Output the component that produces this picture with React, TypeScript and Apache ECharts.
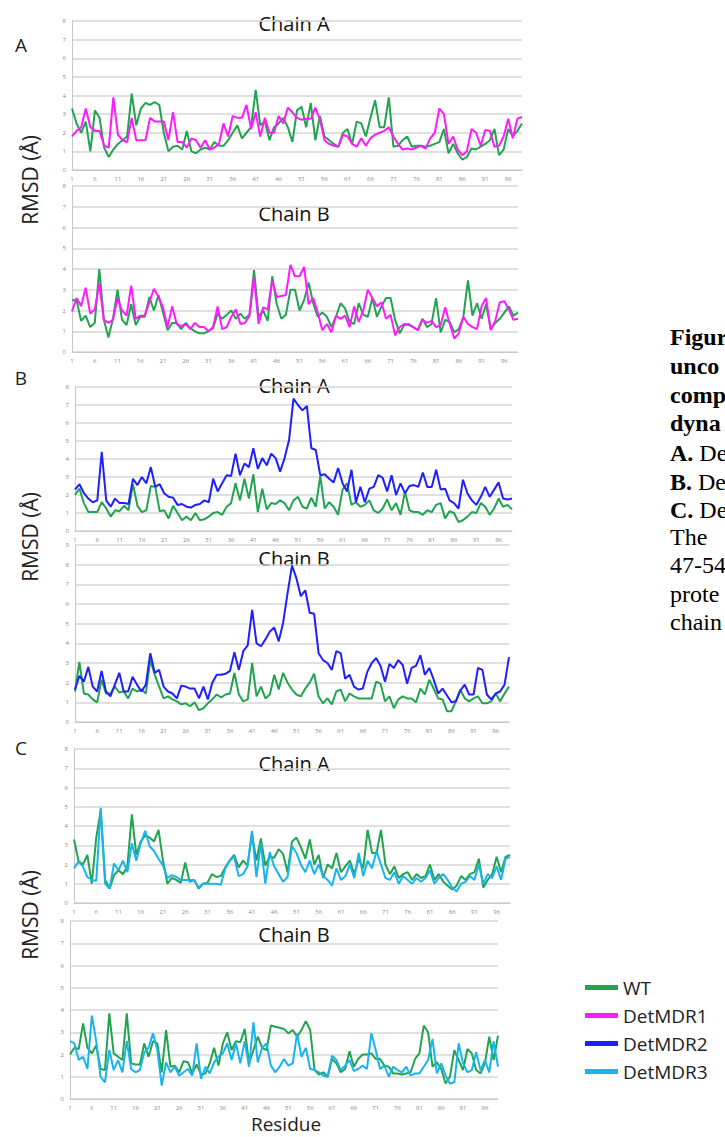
import React, { useEffect, useRef } from "react";
import * as echarts from "echarts";

// Residue numbers 1..99 (category axis)
const residues: string[] = Array.from({ length: 99 }, (_, i) => String(i + 1));

// Panel A – Chain A
const wtA_chainA = [
  3.3, 2.5, 2.0, 2.6, 1.0, 3.2, 2.8, 1.2, 0.7, 1.1,
  1.4, 1.6, 1.8, 4.1, 2.4, 3.3, 3.6, 3.5, 3.65, 3.5,
  2.0, 1.0, 1.25, 1.3, 1.1, 2.1, 1.0, 0.9, 1.1, 1.2,
  1.1, 1.5, 1.3, 1.3, 1.6, 2.0, 2.4, 1.7, 2.0, 2.3,
  4.3, 2.4, 2.6, 1.6, 2.3, 2.5, 2.8, 2.3, 1.5, 3.2,
  3.4, 2.3, 3.6, 1.6, 2.9, 1.8, 1.6, 1.4, 1.25, 2.0,
  2.2, 1.4, 2.6, 2.5, 1.8, 2.8, 3.75, 2.3, 2.3, 3.9,
  1.25, 1.3, 1.6, 1.8, 1.25, 1.3, 1.3, 1.25, 1.3, 1.4,
  1.5, 2.2, 0.9, 1.4, 0.9, 0.55, 0.7, 1.15, 1.1, 1.25,
  1.4, 1.6, 2.2, 0.8, 1.1, 2.2, 1.8, 2.1, 2.5,
];
const mdr1A_chainA = [
  1.8, 2.1, 2.3, 3.3, 2.3, 2.1, 2.1, 1.3, 1.2, 3.9,
  1.9, 1.6, 1.5, 2.8, 1.6, 1.6, 1.6, 2.8, 2.6, 2.6,
  2.6, 1.6, 3.1, 1.5, 1.5, 1.2, 1.7, 1.6, 1.2, 1.6,
  1.1, 1.2, 1.4, 2.5, 1.8, 2.9, 2.8, 2.8, 3.5, 2.2,
  3.1, 1.8, 2.8, 2.0, 2.0, 2.9, 2.5, 3.35, 3.1, 2.8,
  2.7, 2.75, 2.75, 3.35, 2.7, 1.6, 1.4, 1.3, 1.25, 1.9,
  1.8, 1.4, 1.25, 1.7, 1.3, 1.7, 1.9, 2.0, 2.1, 2.3,
  1.8, 1.4, 1.1, 1.15, 1.1, 1.2, 1.3, 1.15, 1.7, 2.0,
  3.3, 3.0, 1.4, 1.8, 1.1, 0.8, 1.0, 2.2, 2.0, 1.3,
  2.15, 2.1, 1.25, 1.3, 1.8, 2.75, 1.7, 2.75, 2.85,
];

// Panel A – Chain B
const wtA_chainB = [
  2.5, 2.5, 1.5, 1.75, 1.2, 1.4, 4.0, 1.55, 0.7, 1.6,
  3.0, 1.55, 1.3, 2.3, 1.3, 1.7, 1.7, 2.65, 2.0, 2.75,
  1.9, 1.05, 1.4, 1.4, 1.1, 1.4, 1.15, 1.0, 0.9, 0.9,
  1.0, 1.15, 1.85, 1.6, 1.8, 2.0, 1.6, 1.85, 1.6, 1.8,
  3.95, 1.7, 2.0, 1.5, 3.65, 2.3, 1.6, 1.8, 3.0, 3.0,
  2.0, 2.5, 3.35, 2.35, 1.7, 1.9, 1.7, 1.2, 1.7, 2.35,
  2.1, 1.45, 1.35, 2.35, 1.8, 1.7, 2.6, 1.7, 2.2, 2.6,
  2.6, 1.55, 0.9, 1.3, 1.35, 1.2, 1.05, 1.6, 1.2, 1.35,
  2.6, 0.95, 1.55, 1.45, 0.95, 1.1, 1.7, 3.45, 1.75, 2.35,
  1.6, 2.3, 1.1, 1.4, 1.6, 1.9, 2.2, 1.75, 1.9,
];
const mdr1A_chainB = [
  1.95, 2.6, 2.2, 3.1, 1.85, 2.05, 3.3, 1.55, 1.4, 1.55,
  2.6, 2.0, 1.75, 3.2, 1.6, 1.75, 1.75, 2.4, 3.05, 2.65,
  2.15, 1.2, 2.2, 1.35, 1.25, 1.35, 1.1, 1.4, 1.2, 1.2,
  1.0, 1.2, 2.2, 1.1, 1.2, 1.7, 2.05, 1.35, 1.4, 1.75,
  3.6, 1.35, 2.15, 2.05, 3.45, 2.65, 2.7, 2.75, 4.2, 3.65,
  3.65, 4.1, 2.3, 2.6, 1.9, 1.05, 1.35, 0.95, 1.75, 1.6,
  1.75, 1.2, 2.2, 1.45, 2.0, 3.0, 2.6, 2.2, 2.4, 1.6,
  1.8, 0.8, 1.2, 1.35, 1.3, 1.2, 1.05, 1.55, 1.4, 1.5,
  1.2, 1.3, 2.15, 1.35, 0.65, 0.9, 1.7, 1.35, 1.2, 1.1,
  2.2, 2.6, 1.05, 1.5, 2.4, 2.45, 2.05, 1.55, 1.6,
];

// Panel B – Chain A
const wtB_chainA = [
  2.0, 2.35, 1.55, 1.05, 1.05, 1.05, 1.6, 1.25, 0.8, 1.15,
  1.1, 1.4, 1.15, 2.6, 1.4, 1.05, 1.15, 2.5, 2.45, 1.1,
  1.15, 0.7, 1.4, 1.0, 0.6, 0.8, 0.6, 1.0, 0.6, 0.65,
  0.8, 1.0, 1.05, 0.9, 1.35, 1.55, 2.65, 1.7, 2.9, 1.8,
  3.15, 1.05, 2.35, 1.2, 1.55, 1.5, 1.7, 1.55, 1.15, 1.7,
  1.9, 1.35, 1.25, 1.85, 1.35, 3.05, 1.25, 1.6, 1.35, 0.9,
  2.3, 2.65, 1.45, 1.6, 1.35, 1.45, 1.7, 1.15, 1.0, 1.25,
  1.75, 1.15, 1.55, 0.9, 2.2, 1.15, 1.05, 1.05, 0.9, 1.15,
  1.05, 1.45, 1.55, 0.7, 1.1, 1.0, 0.5, 0.6, 0.8, 1.05,
  1.0, 1.55, 1.35, 0.9, 1.25, 1.8, 1.35, 1.45, 1.2,
];
const mdr2B_chainA = [
  2.3, 2.6, 2.1, 1.8, 1.6, 1.7, 4.4, 1.7, 1.35, 1.8,
  1.55, 1.55, 1.5, 2.9, 2.55, 3.0, 2.65, 3.55, 2.45, 2.6,
  2.1, 1.9, 1.85, 1.45, 1.5, 1.35, 1.3, 1.45, 1.5, 1.7,
  1.6, 2.9, 2.2, 2.65, 3.1, 3.05, 4.3, 3.1, 3.75, 3.55,
  4.6, 3.45, 4.05, 3.65, 4.3, 4.05, 3.3, 4.05, 5.05, 7.35,
  7.0, 6.7, 6.95, 4.6, 4.5, 3.1, 3.15, 2.9, 2.7, 3.5,
  2.65, 2.2, 3.4, 1.6, 2.45, 1.6, 2.35, 2.45, 3.1, 2.95,
  2.2, 3.1, 2.0, 2.65, 2.1, 2.5, 2.55, 2.45, 3.25, 2.45,
  2.45, 3.4, 2.3, 2.35, 1.7, 1.55, 1.25, 2.85, 2.1, 1.7,
  1.45, 1.9, 2.45, 1.9, 2.3, 2.7, 1.8, 1.75, 1.8,
];

// Panel B – Chain B
const wtB_chainB = [
  1.55, 3.05, 1.45, 1.4, 1.15, 1.0, 2.15, 1.45, 1.45, 1.8,
  1.5, 1.55, 1.2, 1.7, 1.55, 1.65, 1.45, 3.15, 2.4, 1.8,
  1.2, 1.3, 1.15, 1.05, 0.9, 0.95, 0.8, 1.0, 0.6, 0.7,
  0.95, 1.15, 1.4, 1.25, 1.4, 1.45, 2.5, 1.4, 1.05, 1.15,
  3.0, 1.3, 1.8, 1.2, 1.4, 2.4, 1.65, 2.5, 2.0, 1.65,
  1.4, 1.3, 1.7, 2.0, 2.45, 1.3, 0.95, 1.2, 0.9, 1.55,
  1.65, 1.05, 1.45, 1.3, 1.2, 1.2, 1.2, 1.2, 2.05, 1.95,
  1.05, 1.3, 0.7, 1.15, 1.3, 1.2, 1.2, 1.0, 1.7, 1.4,
  2.15, 1.7, 1.2, 1.15, 0.55, 0.55, 1.05, 1.65, 1.2, 1.05,
  1.2, 1.3, 0.95, 0.95, 1.05, 1.45, 1.05, 1.45, 1.8,
];
const mdr2B_chainB = [
  1.65, 2.35, 2.05, 2.8, 1.8, 1.55, 2.6, 1.55, 1.3, 1.9,
  2.5, 1.55, 1.55, 2.3, 1.9, 1.55, 1.9, 3.5, 2.5, 2.65,
  1.8, 1.55, 1.45, 1.2, 1.85, 1.8, 1.7, 1.7, 1.2, 1.8,
  1.15, 2.0, 2.4, 2.4, 2.45, 2.6, 3.55, 2.65, 3.6, 3.9,
  5.7, 4.0, 3.85, 4.2, 4.6, 4.8, 4.1, 5.05, 6.55, 7.95,
  7.3, 6.4, 6.7, 5.55, 5.5, 3.5, 3.15, 3.0, 2.65, 3.6,
  3.5, 2.2, 2.4, 1.8, 1.65, 1.7, 2.55, 3.0, 3.25, 2.85,
  2.05, 2.95, 2.75, 3.15, 2.9, 1.95, 2.75, 2.85, 3.4, 2.4,
  2.75, 2.15, 1.45, 1.7, 1.35, 1.0, 1.05, 1.6, 1.9, 1.4,
  1.4, 2.75, 2.65, 1.4, 1.15, 1.45, 1.55, 1.9, 3.3,
];

// Panel C – Chain A
const wtC_chainA = [
  3.3, 2.2, 2.0, 2.5, 1.0, 3.4, 4.8, 1.2, 0.75, 1.45,
  1.7, 1.5, 1.9, 4.6, 2.5, 3.2, 3.5, 3.4, 3.2, 3.8,
  2.2, 1.0, 1.3, 1.2, 1.05, 2.1, 1.1, 1.2, 0.75, 1.0,
  1.05, 1.5, 1.35, 1.4, 1.85, 2.2, 2.5, 1.85, 2.2, 1.95,
  3.6, 2.2, 3.35, 1.95, 2.4, 2.35, 2.8, 2.55, 1.6, 3.2,
  3.4, 2.9, 2.3, 3.3, 2.0, 2.5, 1.3, 2.0, 1.8, 2.6,
  1.6, 1.9, 2.2, 1.5, 2.3, 1.8, 3.8, 2.6, 2.6, 3.8,
  2.0, 1.5, 1.9, 1.3, 1.5, 1.6, 1.2, 1.5, 1.3, 1.4,
  2.0, 1.2, 1.5, 1.1, 0.9, 0.7, 0.9, 1.4, 1.2, 1.5,
  1.6, 2.3, 0.8, 1.2, 1.5, 2.4, 1.6, 2.4, 2.5,
];
const mdr3C_chainA = [
  1.8, 2.15, 1.9, 1.35, 1.2, 1.15, 4.95, 1.0, 0.75, 2.05,
  1.7, 2.2, 1.6, 3.1, 2.2, 3.1, 3.75, 2.95, 2.7, 2.3,
  1.95, 1.3, 1.45, 1.35, 1.2, 1.2, 1.2, 1.2, 0.8, 1.0,
  1.0, 1.0, 1.0, 0.95, 1.8, 2.2, 2.4, 1.4, 1.5, 1.9,
  3.75, 1.35, 3.1, 1.0, 2.65, 1.9, 1.5, 1.1, 1.35, 2.95,
  2.6, 2.0, 1.6, 2.2, 1.5, 2.0, 1.4, 1.2, 0.9, 1.8,
  1.2, 1.4, 2.0, 1.3, 2.6, 1.4, 2.2, 1.8, 2.7, 2.0,
  1.3, 1.2, 1.6, 1.0, 1.4, 1.2, 1.0, 1.3, 1.1, 1.3,
  1.7, 1.0, 1.3, 1.5, 1.2, 0.8, 0.6, 1.0, 1.1, 1.4,
  1.2, 2.0, 1.0, 1.5, 1.3, 1.9, 1.2, 2.3, 2.4,
];

// Panel C – Chain B
const wtC_chainB = [
  2.0, 2.3, 2.25, 3.4, 2.3, 2.05, 2.4, 1.35, 1.3, 3.85,
  2.05, 1.9, 1.75, 3.85, 1.6, 1.55, 1.55, 2.5, 1.9, 2.6,
  2.5, 1.2, 3.1, 1.45, 1.5, 1.2, 1.7, 1.65, 1.15, 1.55,
  1.1, 1.15, 1.6, 2.3, 1.5, 2.5, 3.0, 2.2, 2.6, 2.55,
  3.15, 1.6, 2.2, 2.8, 2.3, 2.2, 3.3, 3.25, 3.2, 3.15,
  2.95, 3.1, 2.8, 3.1, 3.5, 3.1, 1.3, 1.1, 1.2, 1.0,
  1.8, 1.6, 1.2, 1.35, 2.15, 1.45, 1.8, 2.0, 2.0, 2.05,
  1.8, 1.8, 1.5, 1.45, 1.15, 1.15, 1.1, 1.15, 1.2, 1.8,
  2.05, 3.3, 3.0, 1.45, 1.65, 1.35, 0.7, 1.0, 2.2, 1.75,
  1.3, 2.25, 2.05, 1.3, 1.15, 1.6, 2.8, 1.75, 2.85,
];
const mdr3C_chainB = [
  2.6, 2.5, 1.75, 1.9, 1.35, 3.75, 2.6, 1.0, 0.75, 2.2,
  1.3, 1.75, 1.2, 2.6, 1.35, 1.2, 1.3, 2.1, 2.3, 2.95,
  2.2, 0.6, 1.65, 1.2, 1.45, 1.05, 1.2, 1.35, 1.05, 2.5,
  0.9, 1.45, 1.15, 1.65, 1.9, 2.05, 2.5, 1.75, 2.5, 1.6,
  2.6, 1.45, 3.45, 1.65, 2.3, 2.5, 1.5, 1.2, 1.45, 1.8,
  1.5, 1.6, 2.95, 1.9, 2.3, 1.35, 1.3, 1.2, 1.05, 1.0,
  1.95, 1.75, 1.3, 1.5, 1.75, 1.25, 1.35, 1.5, 1.35, 2.95,
  2.2, 1.35, 1.5, 1.0, 1.45, 1.3, 1.2, 1.45, 1.05, 1.15,
  1.15, 1.45, 1.75, 2.7, 1.15, 1.6, 1.05, 0.7, 0.75, 2.5,
  1.6, 1.2, 1.3, 2.1, 1.3, 1.75, 1.2, 2.6, 1.45,
];

const legendNames = ["WT", "DetMDR1", "DetMDR2", "DetMDR3"];
const colors: Record<string, string> = {
  WT: "#22a34f",
  DetMDR1: "#ff1aff",
  DetMDR2: "#1f1fff",
  DetMDR3: "#19b4ee",
};

const chainTitles = ["Chain A", "Chain B", "Chain A", "Chain B", "Chain A", "Chain B"];
const panelLetters = ["A", "B", "C"];
const captionLines = [
  { b: "Figur", r: "" },
  { b: "unco", r: "" },
  { b: "comp", r: "" },
  { b: "dyna", r: "" },
  { b: "A.", r: " De" },
  { b: "B.", r: " De" },
  { b: "C.", r: " De" },
  { b: "", r: "The" },
  { b: "", r: "47-54" },
  { b: "", r: "prote" },
  { b: "", r: "chain" },
];

// Layout (pixels)
const panels = [
  { grid: { left: 72, top: 21, width: 450, height: 149 }, ymax: 8, series: [["WT", wtA_chainA], ["DetMDR1", mdr1A_chainA]] },
  { grid: { left: 72, top: 186, width: 446, height: 166 }, ymax: 8, series: [["WT", wtA_chainB], ["DetMDR1", mdr1A_chainB]] },
  { grid: { left: 75, top: 387, width: 437, height: 144 }, ymax: 8, series: [["WT", wtB_chainA], ["DetMDR2", mdr2B_chainA]] },
  { grid: { left: 75, top: 545, width: 434, height: 177 }, ymax: 9, series: [["WT", wtB_chainB], ["DetMDR2", mdr2B_chainB]] },
  { grid: { left: 74, top: 749, width: 436, height: 154 }, ymax: 8, series: [["WT", wtC_chainA], ["DetMDR3", mdr3C_chainA]] },
  { grid: { left: 70, top: 921, width: 428, height: 178 }, ymax: 8, series: [["WT", wtC_chainB], ["DetMDR3", mdr3C_chainB]] },
];
const titleY = [23, 213, 385, 558, 763, 934];
const letterY = [45, 378, 748];
const rmsdY = [180, 537, 915];
const captionY = [337, 366, 395, 423, 453, 482, 510, 537, 565, 594, 622];

export default function App() {
  const ref = useRef<HTMLDivElement>(null);
  useEffect(() => {
    if (!ref.current) return;
    const chart = echarts.init(ref.current, undefined, { renderer: "svg" });
    const sans = "Open Sans";
    const grids: any[] = [];
    const xAxes: any[] = [];
    const yAxes: any[] = [];
    const series: any[] = [];
    panels.forEach((p, i) => {
      grids.push({ ...p.grid });
      xAxes.push({
        type: "category",
        gridIndex: i,
        data: residues,
        boundaryGap: false,
        axisLine: { lineStyle: { color: "#c8c8c8", width: 1 } },
        axisTick: { show: false },
        axisLabel: { interval: 4, fontSize: 6, color: "#888", margin: 6, fontFamily: sans },
        splitLine: { show: false },
      });
      yAxes.push({
        type: "value",
        gridIndex: i,
        min: 0,
        max: p.ymax,
        interval: 1,
        axisLine: { show: true, lineStyle: { color: "#c8c8c8", width: 1 } },
        axisTick: { show: false },
        axisLabel: { fontSize: 6, color: "#888", margin: 6, fontFamily: sans },
        splitLine: { show: true, lineStyle: { color: "#d6d6d6", width: 1.5 } },
      });
      (p.series as any[]).forEach(([name, data]) => {
        series.push({
          type: "line",
          name,
          xAxisIndex: i,
          yAxisIndex: i,
          data,
          symbol: "none",
          lineStyle: { width: 2, color: colors[name] },
          itemStyle: { color: colors[name] },
        });
      });
    });

    const graphics: any[] = [];
    chainTitles.forEach((t, i) => {
      graphics.push({
        type: "text",
        x: 294,
        y: titleY[i],
        style: { text: t, fontSize: 20, fontFamily: sans, fill: "#111", align: "center", verticalAlign: "middle" },
      });
    });
    panelLetters.forEach((t, i) => {
      graphics.push({
        type: "text",
        x: 21,
        y: letterY[i],
        style: { text: t, fontSize: 19, fontFamily: sans, fill: "#222", align: "center", verticalAlign: "middle" },
      });
    });
    rmsdY.forEach((y) => {
      graphics.push({
        type: "text",
        x: 30,
        y,
        rotation: Math.PI / 2,
        style: { text: "RMSD (Å)", fontSize: 21, fontFamily: sans, fill: "#222", align: "center", verticalAlign: "middle" },
      });
    });
    graphics.push({
      type: "text",
      x: 286,
      y: 1124,
      style: { text: "Residue", fontSize: 19, fontFamily: sans, fill: "#222", align: "center", verticalAlign: "middle" },
    });
    captionLines.forEach((l, i) => {
      const txt = (l.b ? "{b|" + l.b + "}" : "") + (l.r ? "{r|" + l.r + "}" : "");
      graphics.push({
        type: "text",
        x: 670,
        y: captionY[i],
        style: {
          text: txt,
          verticalAlign: "middle",
          rich: {
            b: { fontSize: 24, fontWeight: "bold", fontFamily: "Liberation Serif", fill: "#000" },
            r: { fontSize: 24, fontFamily: "Liberation Serif", fill: "#000" },
          },
        },
      });
    });

    chart.setOption({
      animation: false,
      backgroundColor: "#ffffff",
      grid: grids,
      xAxis: xAxes,
      yAxis: yAxes,
      series,
      legend: {
        data: legendNames,
        orient: "vertical",
        left: 580,
        top: 973,
        icon: "rect",
        itemWidth: 33,
        itemHeight: 5,
        itemGap: 9,
        textStyle: { fontSize: 19, fontFamily: sans, color: "#222" },
        selectedMode: false,
      },
      graphic: graphics,
    });
    return () => chart.dispose();
  }, []);
  return <div ref={ref} style={{ position: "absolute", left: 0, top: 0, width: 725, height: 1137 }} />;
}
